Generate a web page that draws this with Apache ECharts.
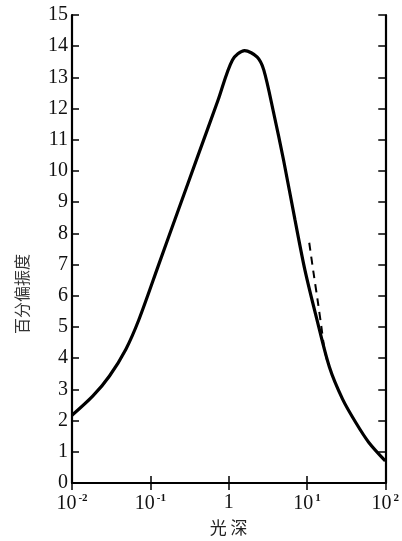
<!DOCTYPE html>
<html>
<head>
<meta charset="utf-8">
<script src="https://cdn.jsdelivr.net/npm/echarts@6/dist/echarts.min.js"></script>
<style>
  html, body { margin: 0; padding: 0; background: #fff; }
  #chart { width: 402px; height: 541px; }
</style>
</head>
<body>
<div id="chart"></div>
<script>
// optical depth (x) and percent polarization (y)
var depthSolid = [0.01, 0.0185, 0.0301, 0.0488, 0.0716, 0.128, 0.228, 0.407, 0.728, 1.12, 1.6, 2.32, 2.81, 3.76, 5.02, 7.03, 9.4, 13.2, 19.4, 28.5, 42, 61.7, 100];
var polSolid = [2.17, 2.79, 3.43, 4.29, 5.24, 7.0, 8.75, 10.5, 12.25, 13.56, 13.86, 13.65, 13.24, 11.86, 10.36, 8.44, 6.84, 5.31, 3.71, 2.69, 1.94, 1.3, 0.71];
var depthDashed = [10.7, 12.2, 13.8, 15.3, 16.7, 18];
var polDashed = [7.7, 6.7, 5.8, 5.0, 4.3, 3.95];

var xTickValues = [0.01, 0.1, 1, 10, 100];
var xTickLabels = ['{b|10}{s|-2}', '{b|10}{s|-1}', '{b|1}', '{b|10}{s|1}', '{b|10}{s|2}'];
var yAxisName = '百分偏振度';
var xAxisName = '光 深';

function pairs(xs, ys) {
  return xs.map(function (x, i) { return [x, ys[i]]; });
}

var chart = echarts.init(document.getElementById('chart'));

var serif = 'Liberation Serif';
var axisLine = { lineStyle: { color: '#000', width: 2.2 } };
var inTick = { inside: true, length: 7, lineStyle: { color: '#000', width: 1.5 } };

chart.setOption({
  backgroundColor: '#fff',
  animation: false,
  grid: { left: 72, right: 12, top: 15, bottom: 57 },
  xAxis: [
    {
      type: 'log',
      logBase: 10,
      min: 0.01,
      max: 100,
      position: 'bottom',
      axisLine: axisLine,
      axisTick: inTick,
      minorTick: { show: false },
      splitLine: { show: false },
      axisLabel: {
        margin: 10,
        color: '#111',
        fontFamily: serif,
        formatter: function (v) {
          for (var i = 0; i < xTickValues.length; i++) {
            if (Math.abs(Math.log10(v) - Math.log10(xTickValues[i])) < 1e-6) return xTickLabels[i];
          }
          return '';
        },
        rich: {
          b: { fontFamily: serif, fontSize: 20, color: '#111' },
          s: { fontFamily: serif, fontSize: 11, fontWeight: 'bold', color: '#111', verticalAlign: 'top', padding: [0, 0, 10, 2] }
        }
      },
      name: xAxisName,
      nameLocation: 'middle',
      nameGap: 36,
      nameTextStyle: { fontFamily: 'Noto Sans CJK SC', fontSize: 17, color: '#222' }
    },
    {
      type: 'log',
      logBase: 10,
      min: 0.01,
      max: 100,
      position: 'top',
      axisLine: axisLine,
      axisTick: inTick,
      axisLabel: { show: false },
      splitLine: { show: false }
    }
  ],
  yAxis: [
    {
      type: 'value',
      min: 0,
      max: 15,
      interval: 1,
      position: 'left',
      axisLine: { show: true, lineStyle: { color: '#000', width: 2.2 } },
      axisTick: { show: true, inside: true, length: 7, lineStyle: { color: '#000', width: 1.5 } },
      splitLine: { show: false },
      axisLabel: { margin: 4, color: '#111', fontFamily: serif, fontSize: 20 },
      name: yAxisName,
      nameLocation: 'middle',
      nameGap: 42,
      nameTextStyle: { fontFamily: 'Noto Sans CJK SC', fontSize: 16, color: '#333', padding: [0, 90, 0, 0] }
    },
    {
      type: 'value',
      min: 0,
      max: 15,
      interval: 1,
      position: 'right',
      axisLine: { show: true, lineStyle: { color: '#000', width: 2.2 } },
      axisTick: { show: true, inside: true, length: 7, lineStyle: { color: '#000', width: 1.5 } },
      splitLine: { show: false },
      axisLabel: { show: false }
    }
  ],
  series: [
    {
      type: 'line',
      data: pairs(depthSolid, polSolid),
      smooth: 0.3,
      showSymbol: false,
      lineStyle: { color: '#000', width: 3.2 }
    },
    {
      type: 'line',
      data: pairs(depthDashed, polDashed),
      smooth: 0.3,
      showSymbol: false,
      lineStyle: { color: '#000', width: 2, type: [8, 6] }
    }
  ]
});
</script>
</body>
</html>
